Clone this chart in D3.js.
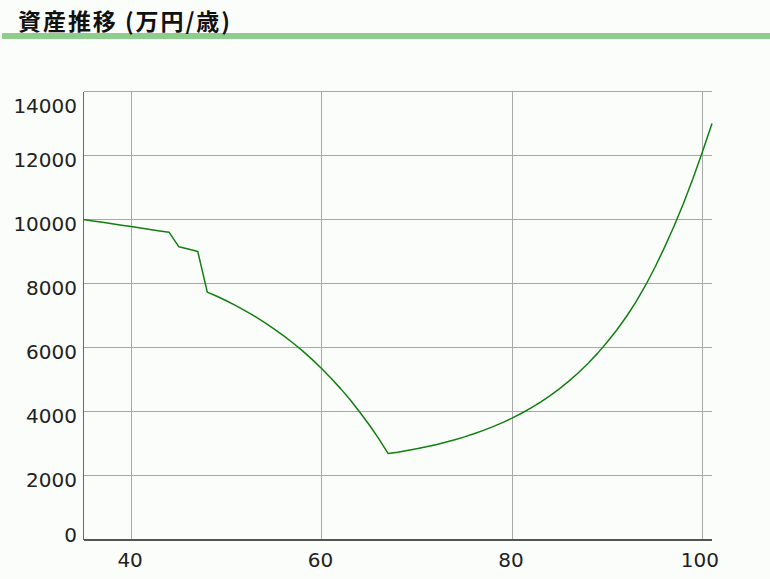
<!DOCTYPE html>
<html>
<head>
<meta charset="utf-8">
<script src="https://cdn.jsdelivr.net/npm/d3@7"></script>
<style>
  html, body { margin: 0; padding: 0; background: #fafdfa; }
  svg { display: block; }
</style>
</head>
<body>
<div id="wrapper"></div>
<script>
// ages (歳) and assets (万円)
const ages = [
  35, 36, 37, 38, 39, 40, 41, 42, 43, 44, 45, 46, 47, 48, 49, 50, 51, 52, 53, 54,
  55, 56, 57, 58, 59, 60, 61, 62, 63, 64, 65, 66, 67, 68, 69, 70, 71, 72, 73, 74,
  75, 76, 77, 78, 79, 80, 81, 82, 83, 84, 85, 86, 87, 88, 89, 90, 91, 92, 93, 94,
  95, 96, 97, 98, 99, 100, 101
];
const assets = [
  10000, 9956, 9911, 9867, 9822, 9778, 9733, 9689, 9644, 9600, 9150, 9075, 9000, 7730, 7600, 7460, 7310, 7145, 6970, 6785,
  6585, 6370, 6140, 5895, 5630, 5345, 5040, 4715, 4365, 3985, 3585, 3150, 2685, 2727, 2778, 2835, 2896, 2964, 3038, 3119,
  3207, 3304, 3410, 3527, 3654, 3793, 3946, 4113, 4296, 4497, 4716, 4957, 5220, 5508, 5824, 6170, 6548, 6962, 7416, 7930,
  8500, 9120, 9780, 10500, 11280, 12120, 13000
];
const xTicks = [40, 60, 80, 100];
const yTicks = [0, 2000, 4000, 6000, 8000, 10000, 12000, 14000];
const title = '資産推移 (万円/歳)';

function drawChart() {
  const width = 770, height = 579;
  const plot = { left: 83.5, right: 712, top: 91.5, bottom: 539.5 };

  const svg = d3.select('#wrapper').append('svg').attr('width', width).attr('height', height);

  svg.append('rect').attr('width', width).attr('height', height).attr('fill', '#fafdfa');

  // header
  svg.append('rect')
    .attr('x', 2).attr('y', 33).attr('width', width - 2).attr('height', 6)
    .attr('fill', '#8fcd8f');
  svg.append('text')
    .attr('x', 18).attr('y', 30)
    .attr('font-family', '"Noto Sans CJK JP", sans-serif')
    .attr('font-weight', 'bold')
    .attr('font-size', 23)
    .attr('textLength', 212)
    .attr('lengthAdjust', 'spacing')
    .attr('fill', '#111')
    .text(title);

  const x = d3.scaleLinear().domain([35, 101]).range([plot.left, plot.right]);
  const y = d3.scaleLinear().domain([0, 14000]).range([plot.bottom, plot.top]);

  // grid
  const grid = svg.append('g').attr('shape-rendering', 'crispEdges');
  grid.selectAll('.hgrid')
    .data(yTicks)
    .enter()
    .append('line')
    .attr('x1', plot.left).attr('x2', plot.right)
    .attr('y1', (d) => y(d)).attr('y2', (d) => y(d))
    .attr('stroke', '#a8a8a8');
  grid.selectAll('.vgrid')
    .data(xTicks)
    .enter()
    .append('line')
    .attr('x1', (d) => x(d)).attr('x2', (d) => x(d))
    .attr('y1', plot.top).attr('y2', plot.bottom)
    .attr('stroke', '#a8a8a8');

  // axes lines
  svg.append('line')
    .attr('x1', plot.left).attr('x2', plot.left)
    .attr('y1', plot.top).attr('y2', plot.bottom)
    .attr('stroke', '#6a6a6a').attr('shape-rendering', 'crispEdges');
  svg.append('line')
    .attr('x1', plot.left).attr('x2', plot.right)
    .attr('y1', plot.bottom).attr('y2', plot.bottom)
    .attr('stroke', '#555').attr('stroke-width', 2).attr('shape-rendering', 'crispEdges');

  // y labels (kept inside the plot's vertical extent)
  svg.append('g')
    .selectAll('text')
    .data(yTicks)
    .enter()
    .append('text')
    .attr('x', 77)
    .attr('y', (d) => Math.min(Math.max(y(d) + 11, plot.top + 21), plot.bottom + 2))
    .attr('text-anchor', 'end')
    .attr('font-family', '"DejaVu Sans", sans-serif')
    .attr('font-size', 20)
    .attr('fill', '#222')
    .text((d) => d);

  // x labels (last one pulled back inside the right edge)
  const xl = svg.append('g')
    .selectAll('text')
    .data(xTicks)
    .enter()
    .append('text')
    .attr('y', 567)
    .attr('text-anchor', 'middle')
    .attr('font-family', '"DejaVu Sans", sans-serif')
    .attr('font-size', 20)
    .attr('fill', '#222')
    .text((d) => d);
  xl.attr('x', function (d) {
    const w = this.getComputedTextLength();
    return Math.min(x(d) - 1, 719 - w / 2);
  });

  // line
  const data = ages.map((a, i) => ({ age: a, value: assets[i] }));
  const line = d3.line().x((d) => x(d.age)).y((d) => y(d.value));
  svg.append('path')
    .datum(data)
    .attr('d', line)
    .attr('fill', 'none')
    .attr('stroke', '#118011')
    .attr('stroke-width', 1.5)
    .attr('stroke-linejoin', 'round');
}

drawChart();
</script>
</body>
</html>
